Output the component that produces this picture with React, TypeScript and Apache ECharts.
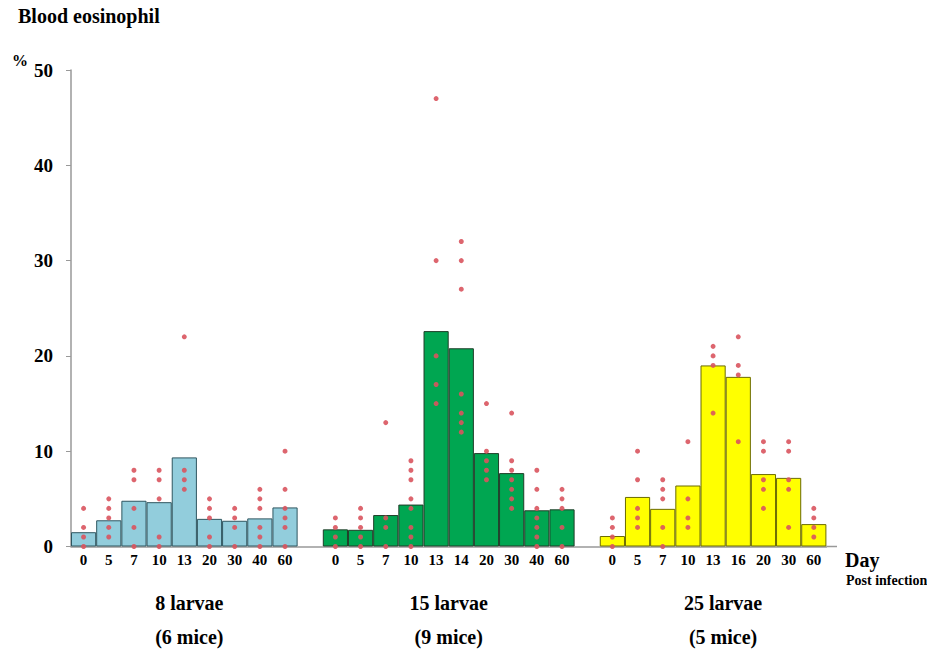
import React, { useEffect, useRef } from "react";
import * as echarts from "echarts";

const group1Days = ["0", "5", "7", "10", "13", "20", "30", "40", "60"];
const group2Days = ["0", "5", "7", "10", "13", "14", "20", "30", "40", "60"];
const group3Days = ["0", "5", "7", "10", "13", "16", "20", "30", "60"];

const group1Means = [1.5, 2.75, 4.8, 4.65, 9.35, 2.9, 2.7, 2.95, 4.1];
const group2Means = [1.8, 1.75, 3.3, 4.4, 22.6, 20.8, 9.8, 7.7, 3.8, 3.9];
const group3Means = [1.1, 5.2, 3.95, 6.4, 19.0, 17.8, 7.6, 7.2, 2.35];

const group1Dots = [
  [4, 2, 1, 0],
  [5, 4, 3, 2, 1],
  [8, 7, 4, 2, 0],
  [8, 7, 5, 1, 0],
  [22, 8, 7, 6],
  [5, 4, 3, 1, 0],
  [4, 3, 2, 0],
  [6, 5, 4, 2, 1, 0],
  [10, 6, 4, 3, 2, 0],
];
const group2Dots = [
  [3, 2, 1, 0],
  [4, 3, 2, 1, 0],
  [13, 3, 2, 0],
  [9, 8, 7, 5, 4, 2, 1, 0],
  [47, 30, 20, 17, 15],
  [32, 30, 27, 16, 14, 13, 12],
  [15, 10, 9, 8, 7],
  [14, 9, 8, 7, 6, 5, 4],
  [8, 6, 4, 3, 2, 1, 0],
  [6, 5, 4, 2, 0],
];
const group3Dots = [
  [3, 2, 1, 0],
  [10, 7, 4, 3, 2],
  [7, 6, 5, 2, 0],
  [11, 5, 3, 2],
  [21, 20, 19, 14],
  [22, 19, 18, 11],
  [11, 10, 7, 6, 4],
  [11, 10, 7, 6, 2],
  [4, 3, 2, 1],
];

const groupLabels = ["8 larvae", "15 larvae", "25 larvae"];
const groupMice = ["(6 mice)", "(9 mice)", "(5 mice)"];
const yTicks = { min: 0, max: 50, interval: 10 };
const titleText = "Blood eosinophil";
const unitText = "%";
const xTitle = "Day";
const xSubTitle = "Post infection";

const groupColors = ["#92cddc", "#00a651", "#ffff00"];
const groupBorders = ["#2e5660", "#1f3d28", "#6b6b00"];

export default function App() {
  const ref = useRef<HTMLDivElement>(null);
  useEffect(() => {
    if (!ref.current) return;
    const chart = echarts.init(ref.current, null, { renderer: "svg" });

    const groups = [
      { days: group1Days, means: group1Means, dots: group1Dots },
      { days: group2Days, means: group2Means, dots: group2Dots },
      { days: group3Days, means: group3Means, dots: group3Dots },
    ];
    const categories: string[] = [];
    const barData: any[] = [];
    const dotData: number[][] = [];
    groups.forEach((g, gi) => {
      if (gi > 0) {
        categories.push("");
        barData.push(null);
      }
      g.days.forEach((d, i) => {
        const idx = categories.length;
        categories.push(d);
        barData.push({
          value: g.means[i],
          itemStyle: {
            color: groupColors[gi],
            borderColor: groupBorders[gi],
            borderWidth: 1,
          },
        });
        g.dots[i].forEach((v) => dotData.push([idx, v]));
      });
    });

    const gridLeft = 71;
    const gridRight = 100.6;
    const gridTop = 70;
    const gridBottom = 102.5;
    const W = 927;
    const slot = (W - gridLeft - gridRight) / categories.length;
    const groupCenters: number[] = [];
    let start = 0;
    groups.forEach((g) => {
      groupCenters.push(gridLeft + slot * (start + g.days.length / 2));
      start += g.days.length + 1;
    });
    const labelOffsets = [5, 0, 10];

    const serif = "Liberation Serif";
    const txt = (text: string, size: number) => ({
      text,
      fontFamily: serif,
      fontWeight: "bold",
      fontSize: size,
      fill: "#000",
    });

    chart.setOption({
      animation: false,
      grid: { left: gridLeft, right: gridRight, top: gridTop, bottom: gridBottom },
      xAxis: {
        type: "category",
        data: categories,
        boundaryGap: true,
        axisLine: { lineStyle: { color: "#999", width: 1.5 } },
        axisTick: { show: false },
        axisLabel: {
          interval: 0,
          color: "#000",
          fontFamily: serif,
          fontWeight: "bold",
          fontSize: 15,
          margin: 6,
        },
        splitLine: { show: false },
      },
      yAxis: {
        type: "value",
        min: yTicks.min,
        max: yTicks.max,
        interval: yTicks.interval,
        axisLine: { show: true, lineStyle: { color: "#999", width: 1.5 } },
        axisTick: { show: true, length: 5, lineStyle: { color: "#999" } },
        axisLabel: {
          color: "#000",
          fontFamily: serif,
          fontWeight: "bold",
          fontSize: 19,
          margin: 18,
        },
        splitLine: { show: false },
      },
      series: [
        {
          type: "bar",
          data: barData,
          barWidth: "100%",
          barCategoryGap: "0%",
          z: 2,
        },
        {
          type: "scatter",
          data: dotData,
          symbol: "circle",
          symbolSize: 5,
          itemStyle: { color: "#d9545e", opacity: 0.9 },
          z: 5,
        },
      ],
      graphic: [
        {
          type: "text",
          left: 18,
          top: 6,
          style: txt(titleText, 20),
        },
        {
          type: "text",
          left: 12,
          top: 52,
          style: txt(unitText, 16),
        },
        {
          type: "line",
          shape: { x1: W - gridRight, y1: 649 - gridBottom, x2: 837, y2: 649 - gridBottom },
          style: { stroke: "#999", lineWidth: 1.5 },
        },
        {
          type: "text",
          left: 845,
          top: 550,
          style: txt(xTitle, 20),
        },
        {
          type: "text",
          left: 846,
          top: 573,
          style: txt(xSubTitle, 14),
        },
        ...groupLabels.map((t, i) => ({
          type: "text",
          x: groupCenters[i] + labelOffsets[i],
          y: 603,
          style: { ...txt(t, 20), align: "center", verticalAlign: "middle" },
        })),
        ...groupMice.map((t, i) => ({
          type: "text",
          x: groupCenters[i] + labelOffsets[i],
          y: 637,
          style: { ...txt(t, 20), align: "center", verticalAlign: "middle" },
        })),
      ],
    });
    return () => chart.dispose();
  }, []);
  return (
    <div
      ref={ref}
      style={{ position: "fixed", left: 0, top: 0, width: 927, height: 649, background: "#fff" }}
    />
  );
}
